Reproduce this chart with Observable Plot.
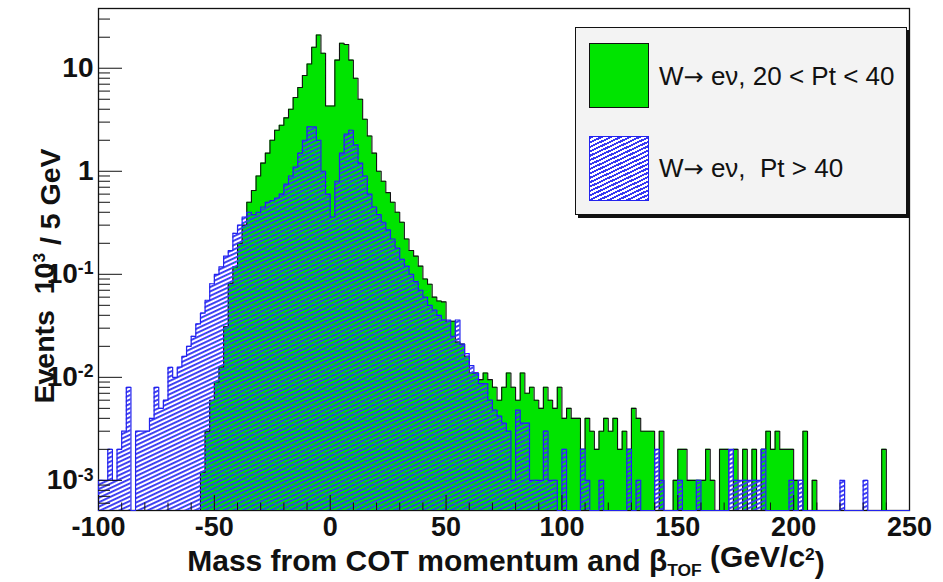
<!DOCTYPE html>
<html><head><meta charset="utf-8">
<script src="https://cdn.jsdelivr.net/npm/d3@7"></script>
<script src="https://cdn.jsdelivr.net/npm/@observablehq/plot@0.6"></script>
<style>
html,body{margin:0;padding:0;background:#fff;}
#wrap{position:relative;width:943px;height:582px;overflow:hidden;font-family:"Liberation Sans",Arial,Helvetica,sans-serif;}
#legend{position:absolute;left:575px;top:27px;width:332px;height:188px;background:#f3f3f3;border:1px solid #111;box-shadow:3px 3px 0 #111;box-sizing:border-box;}
.sw{position:absolute;left:13px;width:60px;height:65px;box-sizing:border-box;}
.lt{position:absolute;left:83px;font-size:26px;color:#111;white-space:pre;line-height:30px;}
.ar{font-family:"DejaVu Sans",sans-serif;font-size:24px;}
</style></head><body><div id="wrap"></div>
<script>
// ---- data -------------------------------------------------------------
const binLow = -100;          // lower edge of first bin (GeV/c^2)
const binWidth = 2;           // bin width (GeV/c^2)
const seriesNames = ["W\u2192 e\u03bd, 20 < Pt < 40", "W\u2192 e\u03bd,  Pt > 40"];
// Events (x10^3) per bin, 20 < Pt < 40
const greenVals = [
0,0,0,0,0,0,0,0,0,0,
0,0,0,0,0,0,0,0,0,0,
0,0,0.0012,0.003,0.006,0.009,0.0126,0.031,0.082,0.118,
0.2,0.3,0.5,0.65,0.9,1.2,1.5,2.0,2.5,2.8,
3.3,4.0,5.2,6.5,8.5,11,16,21,14,4.3,
4.3,12,17.5,17,12,8,5,3.2,2.2,1.5,
1.0,0.8,0.62,0.5,0.4,0.32,0.22,0.17,0.15,0.12,
0.09,0.08,0.06,0.055,0.054,0.035,0.035,0.022,0.021,0.016,
0.011,0.011,0.0095,0.011,0.0095,0.008,0.006,0.008,0.011,0.008,
0.006,0.011,0.007,0.008,0.006,0.005,0.008,0.006,0.005,0.008,
0.004,0.005,0.004,0.004,0.002,0.004,0.003,0.002,0.003,0.004,
0.003,0.004,0.002,0.003,0.002,0.005,0.004,0.003,0.003,0.003,
0,0.003,0,0,0.001,0.002,0.002,0.001,0.001,0.001,
0.001,0.002,0.001,0,0.002,0.002,0,0.002,0,0.002,
0,0.002,0,0.002,0.003,0.002,0.003,0.002,0.002,0.002,
0.001,0,0.003,0,0.001,0,0,0,0,0,
0,0,0,0,0,0,0,0,0,0.002,
0,0,0,0,0];
// Events (x10^3) per bin, Pt > 40
const blueVals = [
0.001,0.001,0.002,0.001,0.002,0.003,0.008,0,0.003,0.003,
0.003,0.004,0.008,0.005,0.006,0.0125,0.01,0.0126,0.016,0.02,
0.025,0.033,0.042,0.056,0.081,0.1,0.118,0.15,0.17,0.25,
0.3,0.36,0.4,0.38,0.4,0.45,0.5,0.52,0.55,0.6,
0.75,0.9,1.1,1.5,2.0,2.7,2.7,2.0,1.0,0.6,
0.36,0.8,1.5,2.3,2.5,1.8,1.2,0.9,0.6,0.45,
0.38,0.32,0.27,0.22,0.18,0.14,0.12,0.1,0.085,0.07,
0.06,0.05,0.045,0.04,0.036,0.036,0.025,0.036,0.021,0.017,
0.013,0.011,0.0087,0.0087,0.006,0.0048,0.0042,0.0036,0.003,0.001,
0.0048,0.0036,0.0036,0.001,0.001,0.001,0.003,0.001,0.001,0,
0.002,0,0,0,0.002,0.001,0,0,0.001,0,
0,0,0,0,0.002,0,0.001,0,0,0,
0.002,0.001,0,0,0,0.001,0,0,0,0.001,
0,0,0,0,0,0,0.002,0.001,0.001,0.001,
0.001,0.001,0.001,0.002,0,0,0,0,0,0.001,
0,0.001,0,0,0,0,0,0,0,0,
0.001,0,0,0,0,0.001,0,0,0,0,
0,0,0,0,0];
const xTicks = [-100,-50,0,50,100,150,200,250];
const yTicks = [1e-3,1e-2,1e-1,1,10];
const yTickLabels = ["10^-3","10^-2","10^-1","1","10"];
const xDomain = [-100,250];
const yDomain = [5.1e-4, 38];

// ---- layout / style -----------------------------------------------------
const W = 943, H = 582, mL = 98, mR = 34, mT = 8, mB = 72;
const GREEN = "#00e400", BLUE = "#2323ee", HATCH = "#3838f2";
const pxPerDecade = (H - mT - mB) / Math.log10(yDomain[1] / yDomain[0]);
const pxPerUnit = (W - mL - mR) / (xDomain[1] - xDomain[0]);
const floor = yDomain[0];
const upY = px => floor * Math.pow(10, px / pxPerDecade);

function stairs(vals){
  const pts = [{x: binLow, y: floor}];
  vals.forEach((v, i) => {
    const x0 = binLow + i * binWidth, y = v > 0 ? v : floor;
    pts.push({x: x0, y}, {x: x0 + binWidth, y});
  });
  pts.push({x: binLow + vals.length * binWidth, y: floor});
  return pts;
}
const gPts = stairs(greenVals), bPts = stairs(blueVals);

const xMinor = d3.range(-100, 251, 10).filter(v => !xTicks.includes(v));
const yMinor = [];
for (let e = -4; e <= 1; e++) for (let m = 2; m <= 9; m++) {
  const v = m * Math.pow(10, e);
  if (v > yDomain[0] && v < yDomain[1]) yMinor.push(v);
}

const chart = Plot.plot({
  width: W, height: H,
  marginLeft: mL, marginRight: mR, marginTop: mT, marginBottom: mB,
  style: {background: "white", overflow: "visible", fontFamily: "'Liberation Sans', Arial, sans-serif"},
  x: {domain: xDomain, axis: null},
  y: {type: "log", domain: yDomain, axis: null},
  marks: [
    Plot.frame({stroke: "#111", strokeWidth: 1.3}),
    Plot.areaY(gPts, {x: "x", y1: floor, y2: "y", fill: GREEN}),
    Plot.line(gPts, {x: "x", y: "y", stroke: "#111", strokeWidth: 1.1}),
    Plot.areaY(bPts, {x: "x", y1: floor, y2: "y", fill: "url(#hatchB)"}),
    Plot.line(bPts, {x: "x", y: "y", stroke: BLUE, strokeWidth: 1.2}),
    // x ticks (inside, upward)
    Plot.ruleX(xTicks, {x: d => d, y1: floor, y2: upY(15), stroke: "#111", strokeWidth: 1}),
    Plot.ruleX(xMinor, {x: d => d, y1: floor, y2: upY(7.5), stroke: "#111", strokeWidth: 1}),
    // y ticks (inside, rightward)
    Plot.ruleY(yTicks, {y: d => d, x1: xDomain[0], x2: xDomain[0] + 24 / pxPerUnit, stroke: "#111", strokeWidth: 1}),
    Plot.ruleY(yMinor, {y: d => d, x1: xDomain[0], x2: xDomain[0] + 12 / pxPerUnit, stroke: "#111", strokeWidth: 1}),
    // tick labels
    Plot.text(xTicks, {x: d => d, y: floor, text: d => String(d), dy: 17, lineAnchor: "middle", fontSize: 27, fontWeight: "bold", fill: "#111"}),
    Plot.text(yTicks, {x: xDomain[0], y: d => d, text: (d, i) => yTickLabels[i], dx: -5, textAnchor: "end", lineAnchor: "middle", fontSize: 28, fontWeight: "bold", fill: "#111"})
  ]
});

// hatch pattern
const svg = d3.select(chart);
const defs = svg.insert("defs", ":first-child");
const pat = defs.append("pattern").attr("id", "hatchB").attr("patternUnits", "userSpaceOnUse")
  .attr("width", 12).attr("height", 4).attr("patternTransform", "rotate(-25)");
pat.append("rect").attr("width", 12).attr("height", 4).attr("fill", "none");
pat.append("rect").attr("y", 0).attr("width", 12).attr("height", 1.9).attr("fill", HATCH);

// superscripts in y tick labels
svg.selectAll("text").each(function(){
  const t = this.textContent;
  if (t.includes("^")) {
    const [base, exp] = t.split("^");
    const el = d3.select(this);
    el.text(base);
    el.append("tspan").attr("dy", "-0.5em").attr("font-size", "0.63em").text(exp);
  }
});

// axis titles
const xt = svg.append("text").attr("x", 506).attr("y", 571).attr("text-anchor", "middle")
  .attr("font-size", 30).attr("font-weight", "bold").attr("fill", "#111");
xt.append("tspan").text("Mass from COT momentum and \u03b2");
xt.append("tspan").attr("dy", "0.3em").attr("font-size", "0.58em").text("TOF");
xt.append("tspan").attr("dy", "-0.3em").text(" (GeV/c");
xt.append("tspan").attr("dy", "-0.42em").attr("font-size", "0.58em").text("2");
xt.append("tspan").attr("dy", "0.42em").text(")");

const yt = svg.append("text").attr("transform", "translate(54,276) rotate(-90)").attr("text-anchor", "middle")
  .attr("font-size", 28.5).attr("font-weight", "bold").attr("fill", "#111");
yt.append("tspan").text("Events  10");
yt.append("tspan").attr("dy", "-0.55em").attr("font-size", "0.6em").text("3");
yt.append("tspan").attr("dy", "0.55em").text(" / 5 GeV");

const wrap = document.getElementById("wrap");
wrap.appendChild(chart);

// legend
const arrowName = s => s.replace("\u2192", '<span class="ar">\u2192</span>');
const lg = document.createElement("div");
lg.id = "legend";
lg.innerHTML =
  `<div class="sw" style="top:15px;background:${GREEN};border:1px solid #111;"></div>` +
  `<div class="lt" style="top:33px;">${arrowName(seriesNames[0])}</div>` +
  `<div class="sw" style="top:108px;border:1px solid ${BLUE};background:repeating-linear-gradient(155deg, ${HATCH} 0 1.9px, #fff 1.9px 4px);"></div>` +
  `<div class="lt" style="top:125px;">${arrowName(seriesNames[1])}</div>`;
wrap.appendChild(lg);
</script>
</body></html>
